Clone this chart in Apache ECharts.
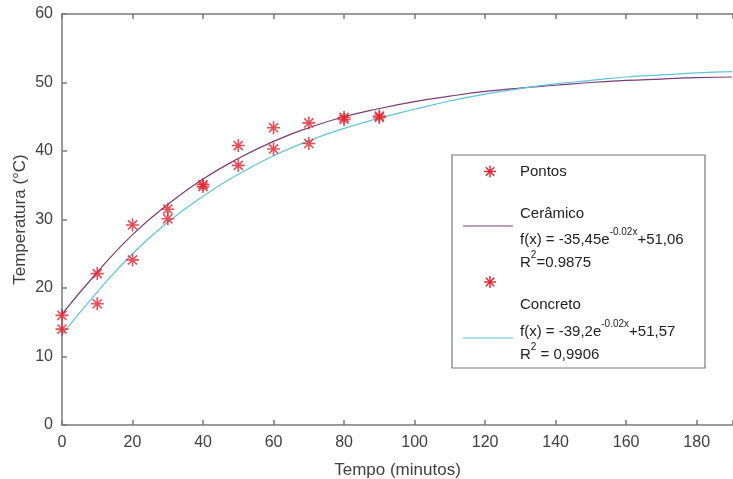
<!DOCTYPE html>
<html>
<head>
<meta charset="utf-8">
<script src="https://cdn.jsdelivr.net/npm/echarts@6/dist/echarts.min.js"></script>
<style>
  html, body { margin: 0; padding: 0; background: #fff; }
  #chart { width: 733px; height: 479px; }
</style>
</head>
<body>
<div id="chart"></div>
<script>
// pontos medidos (minutos)
var tempos = [0, 10, 20, 30, 40, 50, 60, 70, 80, 90]
var ceramicoPts = [16, 22.1, 29.2, 31.5, 35.1, 40.8, 43.4, 44.1, 44.9, 45.1]
var concretoPts = [14, 17.7, 24.1, 30.1, 34.8, 37.9, 40.3, 41.1, 44.6, 44.9]

// curvas ajustadas
var curvaX = [0, 10, 20, 30, 40, 50, 60, 70, 80, 90, 100, 110, 120, 130, 140, 150, 160, 170, 180, 190]
var curvaCeramico = [16.2, 22.3, 27.8, 32.2, 35.9, 38.9, 41.4, 43.4, 45.0, 46.2, 47.2, 48.0, 48.7, 49.2, 49.6, 50.0, 50.3, 50.5, 50.7, 50.8]
var curvaConcreto = [13.2, 19.4, 25.0, 29.6, 33.4, 36.6, 39.3, 41.5, 43.3, 44.8, 46.1, 47.3, 48.3, 49.1, 49.8, 50.3, 50.8, 51.1, 51.4, 51.6]

var xTicks = [0, 20, 40, 60, 80, 100, 120, 140, 160, 180]

var RED = '#e4202c'
var ROXO = '#7a3c78'
var CIANO = '#5ec4dc'
var ASTER = 'path://M0,-1L0,1M-1,0L1,0M-0.7,-0.7L0.7,0.7M-0.7,0.7L0.7,-0.7'

function pares (xs, ys) {
  return xs.map(function (x, i) { return [x, ys[i]] })
}

// asterisco da legenda (4 tracos)
function asterisco (cx, cy) {
  var r = 6
  var d = 4.2
  var segs = [[-r, 0, r, 0], [0, -r, 0, r], [-d, -d, d, d], [-d, d, d, -d]]
  return {
    type: 'group',
    z: 11,
    children: segs.map(function (s) {
      return {
        type: 'line',
        z: 11,
        shape: { x1: cx + s[0], y1: cy + s[1], x2: cx + s[2], y2: cy + s[3] },
        style: { stroke: RED, lineWidth: 1.4 }
      }
    })
  }
}

var font = 'Liberation Sans, Arial, sans-serif'
var axisGray = '#7a7a7a'
var labelGray = '#404040'

var richSup = {
  n: { fontSize: 15, fill: '#222', lineHeight: 20, verticalAlign: 'bottom', fontFamily: font },
  s: { fontSize: 10, fill: '#222', lineHeight: 18, verticalAlign: 'top', fontFamily: font }
}

function texto (x, y, t) {
  return {
    type: 'text', x: x, y: y, z: 11,
    style: { text: t, fontSize: 15, fontFamily: font, fill: '#222', verticalAlign: 'middle' }
  }
}

function textoRich (x, y, t) {
  return {
    type: 'text', x: x, y: y, z: 11,
    style: { text: t, fontFamily: font, verticalAlign: 'middle', rich: richSup }
  }
}

var myChart = echarts.init(document.getElementById('chart'))

var pontoStyle = {
  type: 'scatter',
  symbol: ASTER,
  symbolSize: 13,
  itemStyle: { color: 'rgba(0,0,0,0)', borderColor: RED, borderWidth: 1.6 },
  z: 5,
  silent: true
}

var option = {
  animation: false,
  backgroundColor: '#fff',
  textStyle: { fontFamily: font },
  grid: { left: 62, top: 14, right: 0, bottom: 54, outerBoundsMode: 'none', containLabel: false },
  xAxis: [{
    type: 'value',
    min: 0,
    max: 190.3,
    interval: 20,
    name: 'Tempo (minutos)',
    nameLocation: 'middle',
    nameGap: 37,
    nameMoveOverlap: false,
    nameTextStyle: { fontSize: 17, color: labelGray, fontFamily: font },
    axisLine: { lineStyle: { color: axisGray, width: 1.5 } },
    axisTick: { inside: true, length: 5, lineStyle: { color: axisGray, width: 1.5 } },
    axisLabel: {
      fontSize: 16,
      color: labelGray,
      margin: 10,
      fontFamily: font,
      formatter: function (v) { return xTicks.indexOf(v) >= 0 ? String(v) : '' }
    },
    splitLine: { show: false }
  }, {
    type: 'value',
    position: 'top',
    min: 0,
    max: 190.3,
    interval: 20,
    axisLine: { show: true, lineStyle: { color: axisGray, width: 1.5 } },
    axisTick: { show: true, inside: true, length: 5, lineStyle: { color: axisGray, width: 1.5 } },
    axisLabel: { show: false },
    splitLine: { show: false }
  }],
  yAxis: {
    type: 'value',
    min: 0,
    max: 60,
    interval: 10,
    name: 'Temperatura (°C)',
    nameLocation: 'middle',
    nameGap: 33,
    nameMoveOverlap: false,
    nameTextStyle: { fontSize: 17, color: labelGray, fontFamily: font },
    axisLine: { show: true, lineStyle: { color: axisGray, width: 1.5 } },
    axisTick: { show: true, inside: true, length: 5, lineStyle: { color: axisGray, width: 1.5 } },
    axisLabel: { fontSize: 16, color: labelGray, margin: 9, fontFamily: font },
    splitLine: { show: false }
  },
  series: [
    {
      name: 'Cerâmico',
      type: 'line',
      data: pares(curvaX, curvaCeramico),
      smooth: true,
      showSymbol: false,
      lineStyle: { color: ROXO, width: 1.2 },
      z: 3,
      silent: true
    },
    {
      name: 'Concreto',
      type: 'line',
      data: pares(curvaX, curvaConcreto),
      smooth: true,
      showSymbol: false,
      lineStyle: { color: CIANO, width: 1.2 },
      z: 3,
      silent: true
    },
    Object.assign({ name: 'Pontos' }, pontoStyle, { data: pares(tempos, ceramicoPts) }),
    Object.assign({ name: 'Pontos 2' }, pontoStyle, { data: pares(tempos, concretoPts) })
  ],
  graphic: [
    // caixa da legenda
    {
      type: 'rect',
      z: 10,
      shape: { x: 452, y: 155, width: 253, height: 213 },
      style: { fill: '#fff', stroke: axisGray, lineWidth: 1.2 }
    },
    asterisco(490, 171.5),
    texto(520, 172, 'Pontos'),
    {
      type: 'line',
      z: 11,
      shape: { x1: 463, y1: 226, x2: 513, y2: 226 },
      style: { stroke: ROXO, lineWidth: 1.2 }
    },
    texto(520, 214, 'Cerâmico'),
    textoRich(520, 237, '{n|f(x) = -35,45e}{s|-0.02x}{n|+51,06}'),
    textoRich(520, 260, '{n|R}{s|2}{n|=0.9875}'),
    asterisco(490, 282),
    texto(520, 305, 'Concreto'),
    {
      type: 'line',
      z: 11,
      shape: { x1: 463, y1: 338, x2: 513, y2: 338 },
      style: { stroke: CIANO, lineWidth: 1.2 }
    },
    textoRich(520, 329, '{n|f(x) = -39,2e}{s|-0.02x}{n|+51,57}'),
    textoRich(520, 352, '{n|R}{s|2}{n| = 0,9906}')
  ]
}

myChart.setOption(option)
</script>
</body>
</html>
